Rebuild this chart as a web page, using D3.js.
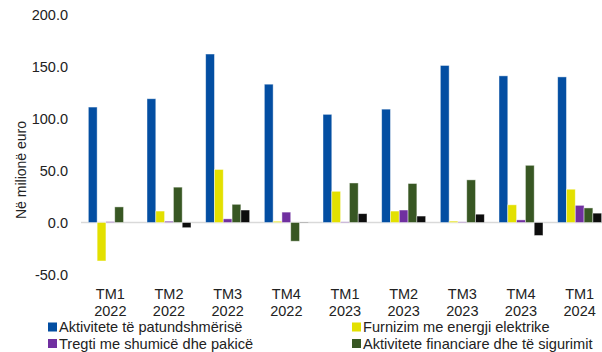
<!DOCTYPE html>
<html>
<head>
<meta charset="utf-8">
<script src="https://cdn.jsdelivr.net/npm/d3@7"></script>
<style>
  html, body { margin: 0; padding: 0; background: #fff; }
  svg { display: block; font-family: "Liberation Sans", Arial, sans-serif; }
</style>
</head>
<body>
<svg id="chart" width="602" height="352"></svg>
<script>
// Quarters (two-line labels)
const quarters = ["TM1", "TM2", "TM3", "TM4", "TM1", "TM2", "TM3", "TM4", "TM1"];
const years    = ["2022", "2022", "2022", "2022", "2023", "2023", "2023", "2023", "2024"];

// Series names, in legend order
const seriesNames = [
  "Aktivitete të patundshmërisë",
  "Furnizim me energji elektrike",
  "Tregti me shumicë dhe pakicë",
  "Aktivitete financiare dhe të sigurimit",
  "Të tjera"
];

// Values in millions of euro, per quarter
const realEstate = [111, 119, 162, 133, 104, 109, 151, 141, 140];
const electricity = [-37, 11, 51, 1.2, 30, 11, 1.3, 17, 32];
const trade = [0.8, 1.2, 3.5, 10, 0.6, 12, 0.6, 2.5, 16.5];
const finance = [15, 34, 17.5, -18, 38, 37.5, 41, 55, 14];
const other = [0, -5, 12, 0.4, 8.5, 6.2, 8, -12.5, 9];

const yTicks = [-50, 0, 50, 100, 150, 200];

const seriesValues = [realEstate, electricity, trade, finance, other];
const colors = ["#034ea2", "#e3e000", "#7030a0", "#385723", "#0d0d0d"];

const svg = d3.select("#chart");

const x0 = d3.scaleBand()
  .domain(d3.range(quarters.length))
  .range([81, 609])
  .paddingInner(0.25)
  .paddingOuter(0.125);

const x1 = d3.scaleBand()
  .domain(d3.range(seriesValues.length))
  .range([0, x0.bandwidth()]);

const y = d3.scaleLinear()
  .domain([-50, 200])
  .range([274.5, 14.5]);

// Y axis labels (no axis line), plain hyphen for negatives
const fmt = d3.format(".1f");
const yAxis = d3.axisLeft(y)
  .tickValues(yTicks)
  .tickFormat(d => fmt(d).replace("\u2212", "-"))
  .tickSize(0)
  .tickPadding(0);

const gy = svg.append("g")
  .attr("transform", "translate(68,0)")
  .call(yAxis);
gy.select(".domain").remove();
gy.selectAll("text")
  .attr("font-size", 14.5)
  .attr("fill", "#222")
  .attr("font-family", "Liberation Sans, Arial, sans-serif");

// Y axis title
svg.append("text")
  .attr("transform", "translate(26,170) rotate(-90)")
  .attr("text-anchor", "middle")
  .attr("font-size", 14)
  .attr("fill", "#222")
  .text("Në milionë euro");

// Zero line, behind the bars
svg.append("line")
  .attr("x1", 81).attr("x2", 602)
  .attr("y1", y(0)).attr("y2", y(0))
  .attr("stroke", "#d9d9d9")
  .attr("stroke-width", 1.5);

// Bars
const groups = svg.append("g")
  .selectAll("g")
  .data(quarters.map((q, i) => i))
  .join("g")
  .attr("transform", i => `translate(${x0(i)},0)`);

groups.selectAll("rect")
  .data(i => seriesValues.map((vals, s) => ({ s, v: vals[i] })))
  .join("rect")
  .attr("x", d => x1(d.s))
  .attr("width", x1.bandwidth())
  .attr("y", d => y(Math.max(0, d.v)))
  .attr("height", d => Math.abs(y(d.v) - y(0)))
  .attr("fill", d => colors[d.s])
  .attr("stroke", "rgba(255,255,255,0.55)")
  .attr("stroke-width", 0.8);

// X axis category labels
const gx = svg.append("g");
const labels = gx.selectAll("text")
  .data(quarters.map((q, i) => i))
  .join("text")
  .attr("x", i => x0(i) + x0.bandwidth() / 2)
  .attr("text-anchor", "middle")
  .attr("font-size", 14.5)
  .attr("fill", "#222");
labels.append("tspan")
  .attr("x", i => x0(i) + x0.bandwidth() / 2)
  .attr("y", 298.5)
  .text(i => quarters[i]);
labels.append("tspan")
  .attr("x", i => x0(i) + x0.bandwidth() / 2)
  .attr("y", 315.5)
  .text(i => years[i]);

// Legend: four sectors in two columns
const legendItems = [0, 1, 2, 3];
const legendPos = [
  { x: 48, y: 327 },
  { x: 352, y: 327 },
  { x: 48, y: 343.5 },
  { x: 352, y: 343.5 }
];
const legend = svg.append("g")
  .selectAll("g")
  .data(legendItems)
  .join("g")
  .attr("transform", (d, k) => `translate(${legendPos[k].x},${legendPos[k].y})`);
legend.append("rect")
  .attr("x", 0).attr("y", -4.5)
  .attr("width", 9).attr("height", 9)
  .attr("fill", d => colors[d]);
legend.append("text")
  .attr("x", 11)
  .attr("y", 5)
  .attr("font-size", 14.6)
  .attr("fill", "#222")
  .text(d => seriesNames[d]);
</script>
</body>
</html>
